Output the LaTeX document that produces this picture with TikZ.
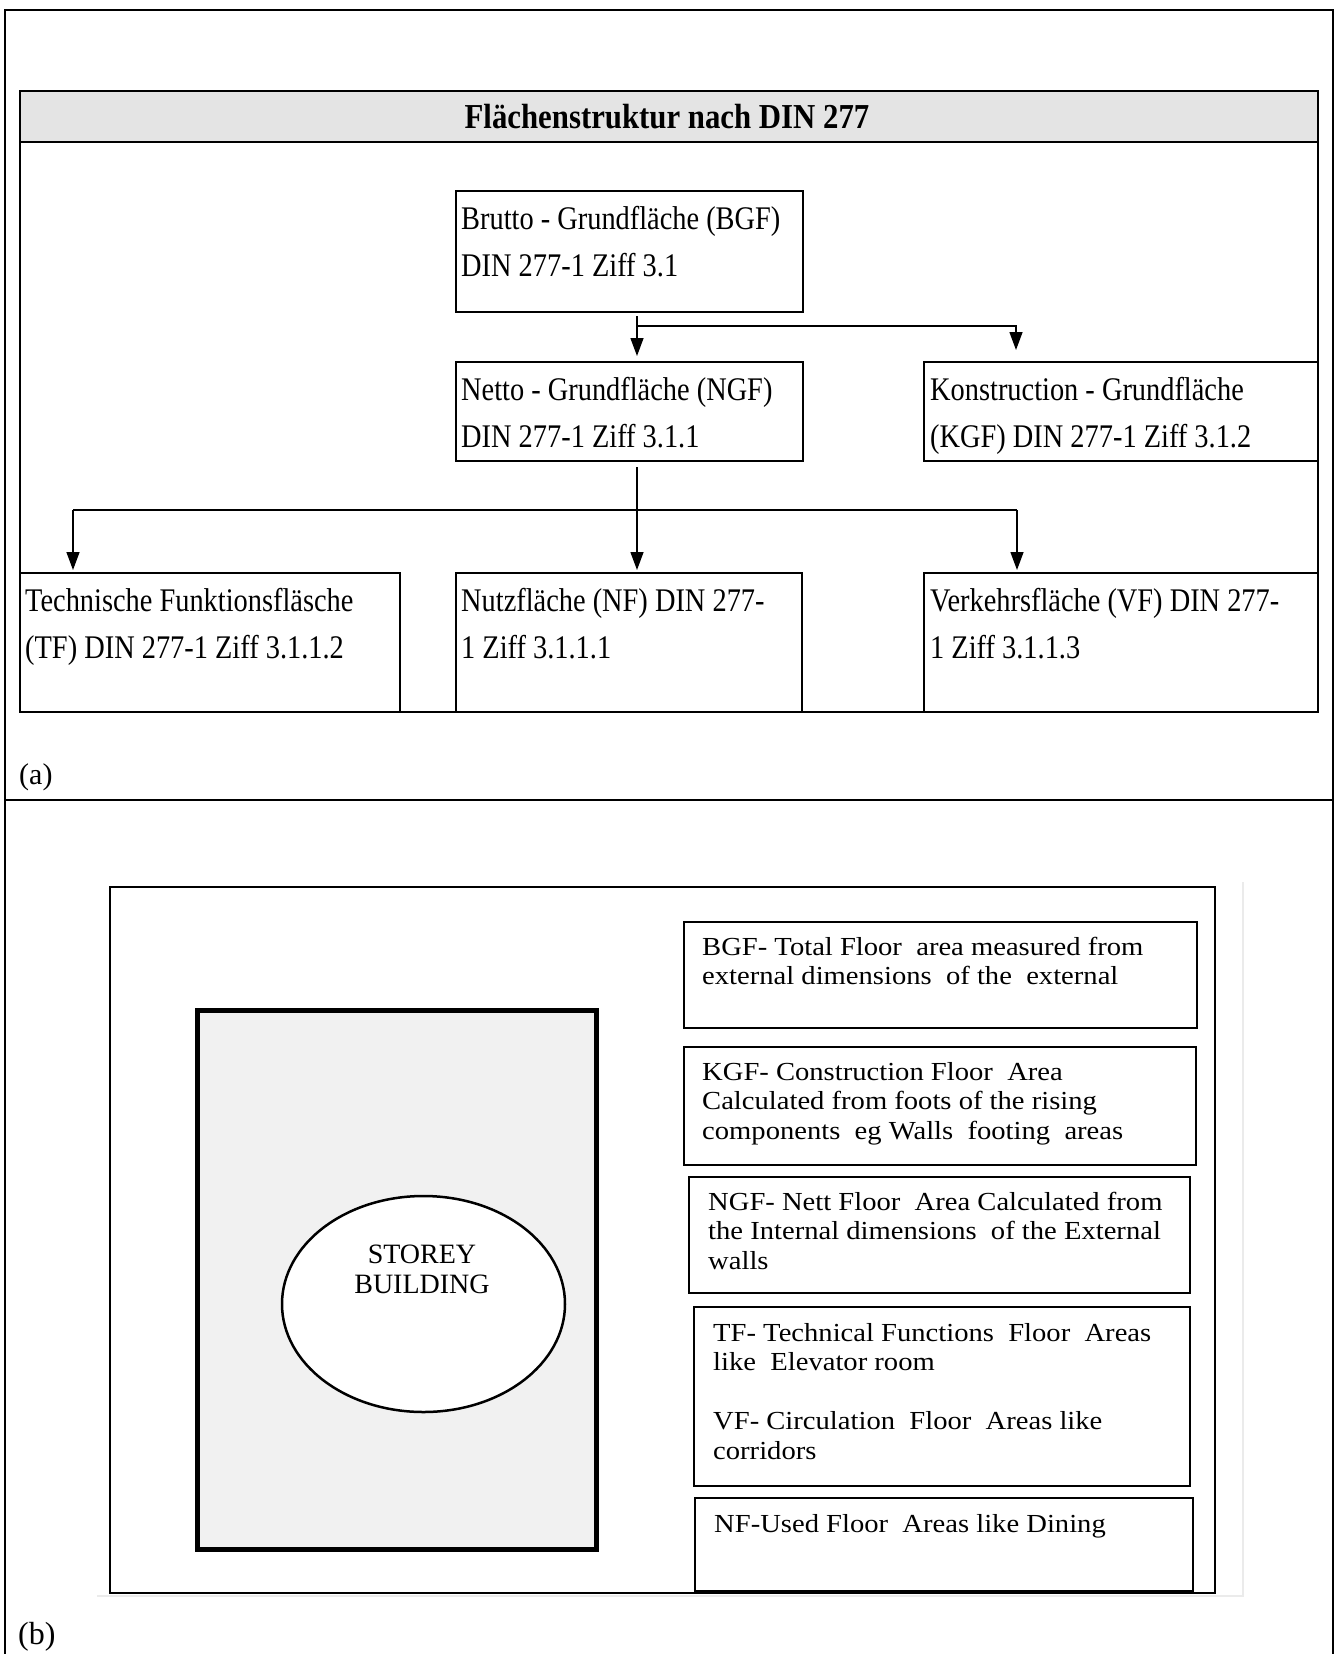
\documentclass[tikz,border=0pt]{standalone}
\usepackage{fontspec}
\setmainfont{Liberation Serif}
\newfontfamily\narrowserif[FakeStretch=0.86]{Liberation Serif}
\newfontfamily\titleserif[FakeStretch=0.88]{Liberation Serif}
\newfontfamily\wideserif[FakeStretch=1.1]{Liberation Serif}
\usetikzlibrary{arrows.meta,shapes.geometric}

\definecolor{bandgray}{HTML}{E4E4E4}
\definecolor{plangray}{HTML}{F1F1F1}
\definecolor{faintline}{HTML}{EBEBEB}

% text block whose baseline is that of its first line
\newcommand\txtblock[2]{\parbox[t]{#1}{\raggedright #2}}

\tikzset{
  frameline/.style={line width=1.8pt},
  abox/.style={draw, rectangle, line width=2.2pt, anchor=north west,
               inner sep=0pt, outer sep=0pt},
  bbox/.style={draw, rectangle, line width=1.8pt, anchor=north west,
               inner sep=0pt, outer sep=0pt},
  atext/.style={anchor=base west, inner sep=0pt,
                font=\narrowserif\fontsize{33}{47}\selectfont},
  btext/.style={anchor=base west, inner sep=0pt,
                font=\wideserif\fontsize{26}{29.5}\selectfont},
  conn/.style={line width=1.4pt},
  arrowtip/.style={-{Triangle[length=18pt,width=13pt]}},
}

\begin{document}
\begin{tikzpicture}[x=1pt,y=-1pt]
\useasboundingbox (0,0) rectangle (1340,1654);
\fill[white] (0,0) rectangle (1340,1654);

% ---------- outer frame and divider ----------
\draw[frameline] (5,1660) -- (5,10) -- (1333,10) -- (1333,1660);
\draw[frameline] (5,800) -- (1333,800);

% ---------- part (a): area structure ----------
\node[draw, fill=bandgray, line width=2.5pt, rectangle, anchor=north west,
      inner sep=0pt, outer sep=0pt, minimum width=1298pt, minimum height=51pt] (band) at (20,91) {};
\node[anchor=base, inner sep=0pt, font=\titleserif\bfseries\fontsize{35}{40}\selectfont]
      (title) at (667,128) {Flächenstruktur nach DIN 277};
\draw[frameline] (band.south west) -- (20,712) -- (1318,712) -- (band.south east);
\draw[line width=2.6pt] (20,712) -- (1318,712);

\node[abox, minimum width=347pt, minimum height=121pt] (bgf) at (456,191) {};
\node[abox, minimum width=347pt, minimum height=99pt]  (ngf) at (456,362) {};
\node[abox, minimum width=394pt, minimum height=99pt]  (kgf) at (924,362) {};
\node[abox, minimum width=380pt, minimum height=139pt] (tf)  at (20,573) {};
\node[abox, minimum width=346pt, minimum height=139pt] (nf)  at (456,573) {};
\node[abox, minimum width=394pt, minimum height=139pt] (vf)  at (924,573) {};

\node[atext] (bgft) at (461,229) {\txtblock{340pt}{Brutto - Grundfläche (BGF)\\DIN 277-1 Ziff 3.1}};
\node[atext] (ngft) at (461,400) {\txtblock{340pt}{Netto - Grundfläche (NGF)\\DIN 277-1 Ziff 3.1.1}};
\node[atext] (kgft) at (930,400) {\txtblock{390pt}{Konstruction - Grundfläche\\(KGF) DIN 277-1 Ziff 3.1.2}};
\node[atext] (tft)  at (25,611)  {\txtblock{375pt}{Technische Funktionsfläsche\\(TF) DIN 277-1 Ziff 3.1.1.2}};
\node[atext] (nft)  at (461,611) {\txtblock{340pt}{Nutzfläche (NF) DIN 277-\\1 Ziff 3.1.1.1}};
\node[atext] (vft)  at (930,611) {\txtblock{390pt}{Verkehrsfläche (VF) DIN 277-\\1 Ziff 3.1.1.3}};

% connectors from BGF
\coordinate (s1) at (637,326);
\coordinate (k1) at (1016,326);
\draw[conn, arrowtip, shorten <=4pt, shorten >=6pt] (bgf.south -| s1) -- (ngf.north -| s1);
\draw[conn, arrowtip, shorten >=12pt] (s1) -- (k1) -- (kgf.north -| k1);

% connectors from NGF
\coordinate (s2) at (637,510);
\coordinate (t2) at (73,510);
\coordinate (v2) at (1017,510);
\draw[conn, arrowtip, shorten <=6pt, shorten >=3pt] (ngf.south -| s2) -- (nf.north -| s2);
\draw[conn] (t2) -- (v2);
\draw[conn, arrowtip, shorten >=3pt] (t2) -- (tf.north -| t2);
\draw[conn, arrowtip, shorten >=3pt] (v2) -- (vf.north -| v2);

\node[anchor=base west, inner sep=0pt, font=\fontsize{30}{36}\selectfont] (labela) at (19,784) {(a)};

% ---------- part (b): storey building ----------
\draw[faintline, line width=1.5pt] (97,1596) -- (1243,1596) -- (1243,882);
\draw[line width=1.6pt] (110,887) rectangle (1215,1593);

\node[draw, fill=plangray, line width=5.5pt, rectangle, anchor=north west,
      inner sep=0pt, outer sep=0pt, minimum width=399pt, minimum height=539pt] (plan) at (197.5,1010.5) {};
\node[draw, fill=white, ellipse, line width=2.5pt, inner sep=0pt,
      minimum width=283pt, minimum height=216pt] (storey) at (423.5,1304) {};
\node[anchor=base, inner sep=0pt, font=\fontsize{28}{30}\selectfont] (storeyt) at (422,1263)
      {\parbox[t]{220pt}{\centering STOREY\\BUILDING}};

\node[bbox, minimum width=513pt, minimum height=106pt] (bgfb) at (684,922) {};
\node[bbox, minimum width=512pt, minimum height=118pt] (kgfb) at (684,1047) {};
\node[bbox, minimum width=501pt, minimum height=116pt] (ngfb) at (689,1177) {};
\node[bbox, minimum width=496pt, minimum height=179pt] (tfb)  at (694,1307) {};
\node[bbox, minimum width=498pt, minimum height=93pt]  (nfb)  at (695,1498) {};

\node[btext] (bgfbt) at (702,955) {\txtblock{490pt}{BGF- Total Floor\ \ area measured from\\external dimensions\ \ of the\ \ external}};
\node[btext] (kgfbt) at (702,1080) {\txtblock{490pt}{KGF- Construction Floor\ \ Area\\Calculated from foots of the rising\\components\ \ eg Walls\ \ footing\ \ areas}};
\node[btext] (ngfbt) at (708,1210) {\txtblock{480pt}{NGF- Nett Floor\ \ Area Calculated from\\the Internal dimensions\ \ of the External\\walls}};
\node[btext] (tfbt)  at (713,1341) {\txtblock{475pt}{TF- Technical Functions\ \ Floor\ \ Areas\\like\ \ Elevator room\\\mbox{}\\VF- Circulation\ \ Floor\ \ Areas like\\corridors}};
\node[btext] (nfbt)  at (714,1532) {\txtblock{475pt}{NF-Used Floor\ \ Areas like Dining}};

\node[anchor=base west, inner sep=0pt, font=\fontsize{32}{38}\selectfont] (labelb) at (18,1644) {(b)};
\end{tikzpicture}
\end{document}
